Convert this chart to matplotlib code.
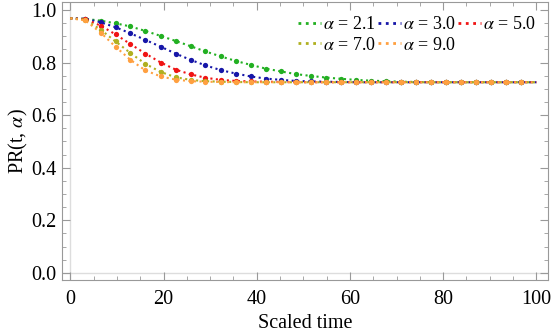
import matplotlib
matplotlib.use("Agg")
import matplotlib.pyplot as plt
from matplotlib.ticker import MultipleLocator, FormatStrFormatter

# scaled time sample points (curve ends plus the marker positions)
t = [0, 3.2, 6.5, 9.7, 12.9, 16.1, 19.4, 22.6, 25.8, 29.0, 32.3, 35.5, 38.7, 41.9,
     45.2, 48.4, 51.6, 54.8, 58.1, 61.3, 64.5, 67.7, 71.0, 74.2, 77.4, 80.6, 83.9,
     87.1, 90.3, 93.5, 96.8, 100]

pr_21 = [0.968, 0.966, 0.959, 0.949, 0.937, 0.920, 0.901, 0.882, 0.862, 0.842, 0.823,
         0.806, 0.791, 0.777, 0.766, 0.756, 0.749, 0.743, 0.738, 0.734, 0.731, 0.729,
         0.727, 0.726] + [0.725] * 8
pr_30 = [0.968, 0.966, 0.953, 0.934, 0.911, 0.886, 0.860, 0.834, 0.810, 0.789, 0.771,
         0.758, 0.747, 0.739, 0.734, 0.730, 0.728, 0.727, 0.726] + [0.725] * 13
pr_50 = [0.968, 0.965, 0.940, 0.907, 0.870, 0.834, 0.800, 0.773, 0.755, 0.742, 0.734,
         0.730, 0.728, 0.727, 0.726] + [0.725] * 17
pr_70 = [0.968, 0.963, 0.925, 0.880, 0.836, 0.795, 0.764, 0.744, 0.734, 0.729, 0.727,
         0.726] + [0.725] * 20
pr_90 = [0.968, 0.960, 0.914, 0.860, 0.810, 0.770, 0.747, 0.735, 0.729, 0.727,
         0.726] + [0.725] * 21

alphas = ["2.1", "3.0", "5.0", "7.0", "9.0"]
series = [pr_21, pr_30, pr_50, pr_70, pr_90]
colors = ["#22b022", "#1616a8", "#f01414", "#b0b020", "#ffa040"]

plt.rcParams["font.family"] = ["Liberation Serif", "DejaVu Serif"]
plt.rcParams["mathtext.fontset"] = "stix"

fig = plt.figure(figsize=(5.53, 3.35), dpi=100)
ax = fig.add_axes([0.112, 0.164, 0.879, 0.830])

ax.axvline(0, color="#dddddd", lw=1, zorder=0)
ax.axhline(0, color="#dddddd", lw=1, zorder=0)

handles = []
for a, y, c in zip(alphas, series, colors):
    # mesh markers only on the interior points
    ax.plot(t, y, color=c, ls=":", lw=1.5, marker="o", ms=3.8, mec="none",
            markevery=slice(1, len(t) - 1))
    h, = ax.plot([], [], color=c, ls=":", lw=2.0, label=r"$\alpha$ = " + a)
    handles.append(h)

ax.set_xlim(-1.8, 102.5)
ax.set_ylim(-0.027, 1.03)
ax.xaxis.set_major_locator(MultipleLocator(20))
ax.xaxis.set_minor_locator(MultipleLocator(5))
ax.yaxis.set_major_locator(MultipleLocator(0.2))
ax.yaxis.set_minor_locator(MultipleLocator(0.05))
ax.yaxis.set_major_formatter(FormatStrFormatter("%.1f"))
ax.tick_params(which="both", direction="in", top=True, right=True,
               color="#999999", labelsize=14.5)
ax.tick_params(axis="x", pad=7)
ax.tick_params(axis="y", pad=4)
ax.tick_params(which="major", length=5.5)
ax.tick_params(which="minor", length=3)
for s in ax.spines.values():
    s.set_color("#999999")

ax.set_xlabel("Scaled time", fontsize=14.5, labelpad=4)
ax.set_ylabel(r"PR(t, $\alpha$)", fontsize=14.5, labelpad=1)

order = [0, 3, 1, 4, 2]
ax.legend([handles[i] for i in order], [handles[i].get_label() for i in order],
          ncol=3, loc="upper right", frameon=False, fontsize=13,
          handlelength=1.3, handletextpad=0.1, columnspacing=0.1,
          labelspacing=0.2, borderaxespad=0.0, bbox_to_anchor=(0.99, 0.975))

fig.savefig("out.png", dpi=100)
